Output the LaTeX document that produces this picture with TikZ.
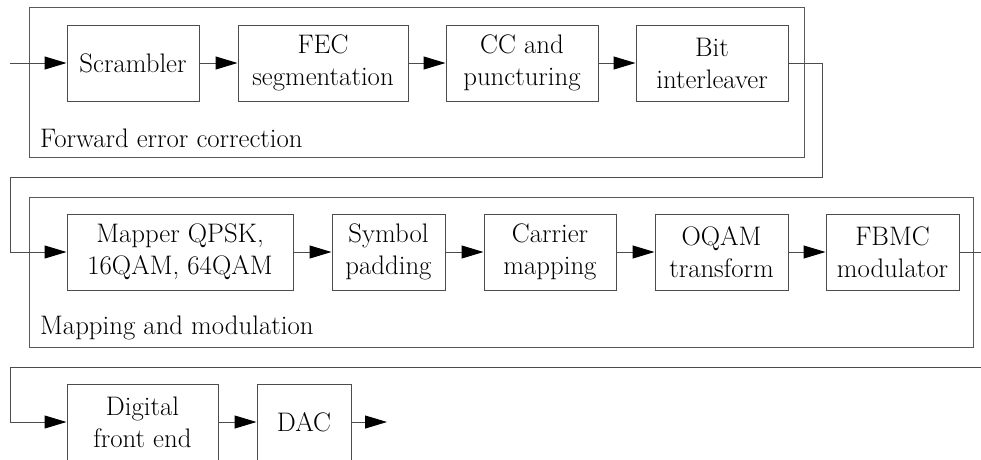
\documentclass[tikz,border=0pt]{standalone}
\usetikzlibrary{positioning,arrows.meta}
\tikzset{
  block/.style={draw=black!70, line width=1pt, minimum height=76pt, inner sep=0pt,
    align=center, font=\fontsize{26.8}{32}\selectfont},
  frame/.style={draw=black!65, line width=1pt},
  link/.style={draw=black!70, line width=1pt},
  flow/.style={link, -{Triangle[length=22pt,width=13pt,color=black]}},
  caption/.style={anchor=west, inner sep=0pt, font=\fontsize{26.8}{32}\selectfont},
}

\begin{document}
\begin{tikzpicture}[x=1pt,y=-1pt]
\useasboundingbox (0,0) rectangle (981,459);
\clip (0,0) rectangle (981,459);

% forward error correction
\draw[frame] (29,7) rectangle (804,157);
\node[block, minimum width=132pt] (scrambler) at (133,63) {Scrambler};
\node[block, minimum width=170pt, right=38pt of scrambler] (fecseg) {FEC\\segmentation};
\node[block, minimum width=152pt, right=37pt of fecseg] (ccpunct) {CC and\\puncturing};
\node[block, minimum width=152pt, right=37pt of ccpunct] (bitint) {Bit\\interleaver};
\node[caption] (feccap) at (40,138) {Forward error correction};

% mapping and modulation
\draw[frame] (29,197) rectangle (973,347);
\node[block, minimum width=226pt] (mapper) at (180,252) {Mapper QPSK,\\16QAM, 64QAM};
\node[block, minimum width=113pt, right=38pt of mapper] (sympad) {Symbol\\padding};
\node[block, minimum width=132pt, right=38pt of sympad] (carmap) {Carrier\\mapping};
\node[block, minimum width=133pt, right=38pt of carmap] (oqam) {OQAM\\transform};
\node[block, minimum width=133pt, right=37pt of oqam] (fbmc) {FBMC\\modulator};
\node[caption] (mapcap) at (40,328) {Mapping and modulation};

% front end
\node[block, minimum width=151pt] (dfe) at (142.5,422) {Digital\\front end};
\node[block, minimum width=94pt, right=38pt of dfe] (dac) {DAC};

% connectors
\coordinate (in) at (10,63);
\coordinate (wrapA) at (822,63);
\coordinate (backA) at (10,177);
\coordinate (wrapB) at (995,252);
\coordinate (backB) at (10,367);
\coordinate (out) at (387,422);

\draw[flow] (in) -- (scrambler);
\draw[flow] (scrambler) -- (fecseg);
\draw[flow] (fecseg) -- (ccpunct);
\draw[flow] (ccpunct) -- (bitint);
\draw[flow] (bitint) -- (wrapA) |- (backA) |- (mapper);
\draw[flow] (mapper) -- (sympad);
\draw[flow] (sympad) -- (carmap);
\draw[flow] (carmap) -- (oqam);
\draw[flow] (oqam) -- (fbmc);
\draw[flow] (fbmc) -- (wrapB) |- (backB) |- (dfe);
\draw[flow] (dfe) -- (dac);
\draw[flow] (dac) -- (out);
\end{tikzpicture}
\end{document}
